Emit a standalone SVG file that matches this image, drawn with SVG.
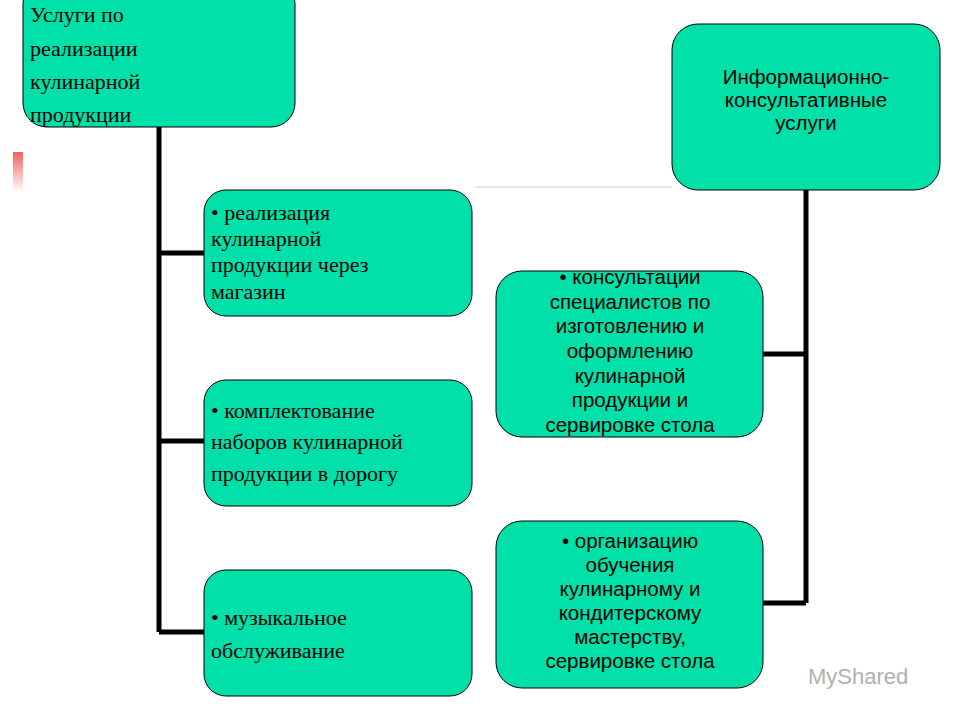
<svg xmlns="http://www.w3.org/2000/svg" width="960" height="720" viewBox="0 0 960 720">
<defs>
<style>
.b{fill:#00e0a8;stroke:#000;stroke-width:1}
.s{font-family:"Liberation Serif",serif;font-size:22px;fill:#000}
.a{font-family:"Liberation Sans",sans-serif;font-size:20.5px;fill:#000;text-anchor:middle}
.c{stroke:#000;stroke-width:5;fill:none}
</style>
<linearGradient id="rg" x1="0" y1="0" x2="0" y2="1"><stop offset="0" stop-color="#f06060"/><stop offset="1" stop-color="#fff"/></linearGradient>
</defs>
<rect width="960" height="720" fill="#fff"/>
<rect x="13" y="152" width="10" height="40" fill="url(#rg)"/>
<line x1="475" y1="187" x2="672" y2="187" stroke="#e4e4e4" stroke-width="2"/>
<g id="connectors">
<path class="c" d="M159 127V632M159 253H204M159 441H204M159 632H204"/>
<path class="c" d="M806 190V603M806 354H763M806 603H763"/>
</g>
<g id="root-left"><rect class="b" x="23" y="-20" width="272" height="147" rx="24"/>
<text class="s" font-size="24" x="30"><tspan x="30" y="22">Услуги по</tspan><tspan x="30" y="56">реализации</tspan><tspan x="30" y="89">кулинарной</tspan><tspan x="30" y="122">продукции</tspan></text></g>
<g id="l1"><rect class="b" x="204" y="190" width="268" height="126" rx="22"/>
<text class="s"><tspan x="211" y="220">• реализация</tspan><tspan x="211" y="246">кулинарной</tspan><tspan x="211" y="272">продукции через</tspan><tspan x="211" y="299">магазин</tspan></text></g>
<g id="l2"><rect class="b" x="204" y="380" width="268" height="126" rx="22"/>
<text class="s"><tspan x="211" y="418">• комплектование</tspan><tspan x="211" y="449">наборов кулинарной</tspan><tspan x="211" y="481">продукции в дорогу</tspan></text></g>
<g id="l3"><rect class="b" x="204" y="570" width="268" height="126" rx="22"/>
<text class="s"><tspan x="211" y="625">• музыкальное</tspan><tspan x="211" y="658">обслуживание</tspan></text></g>
<g id="root-right"><rect class="b" x="672" y="24" width="268" height="166" rx="26"/>
<text class="a"><tspan x="806" y="84">Информационно-</tspan><tspan x="806" y="107">консультативные</tspan><tspan x="806" y="130">услуги</tspan></text></g>
<g id="r1"><rect class="b" x="496" y="271" width="267" height="166" rx="26"/>
<text class="a"><tspan x="630" y="284">• консультации</tspan><tspan x="630" y="309">специалистов по</tspan><tspan x="630" y="333">изготовлению и</tspan><tspan x="630" y="358">оформлению</tspan><tspan x="630" y="383">кулинарной</tspan><tspan x="630" y="407">продукции и</tspan><tspan x="630" y="432">сервировке стола</tspan></text></g>
<g id="r2"><rect class="b" x="496" y="521" width="267" height="167" rx="26"/>
<text class="a"><tspan x="630" y="548">• организацию</tspan><tspan x="630" y="572">обучения</tspan><tspan x="630" y="596">кулинарному и</tspan><tspan x="630" y="620">кондитерскому</tspan><tspan x="630" y="644">мастерству,</tspan><tspan x="630" y="668">сервировке стола</tspan></text></g>
<text x="808" y="684" font-family="Liberation Sans,sans-serif" font-size="22" fill="#b0b0b0">MyShared</text>
</svg>
